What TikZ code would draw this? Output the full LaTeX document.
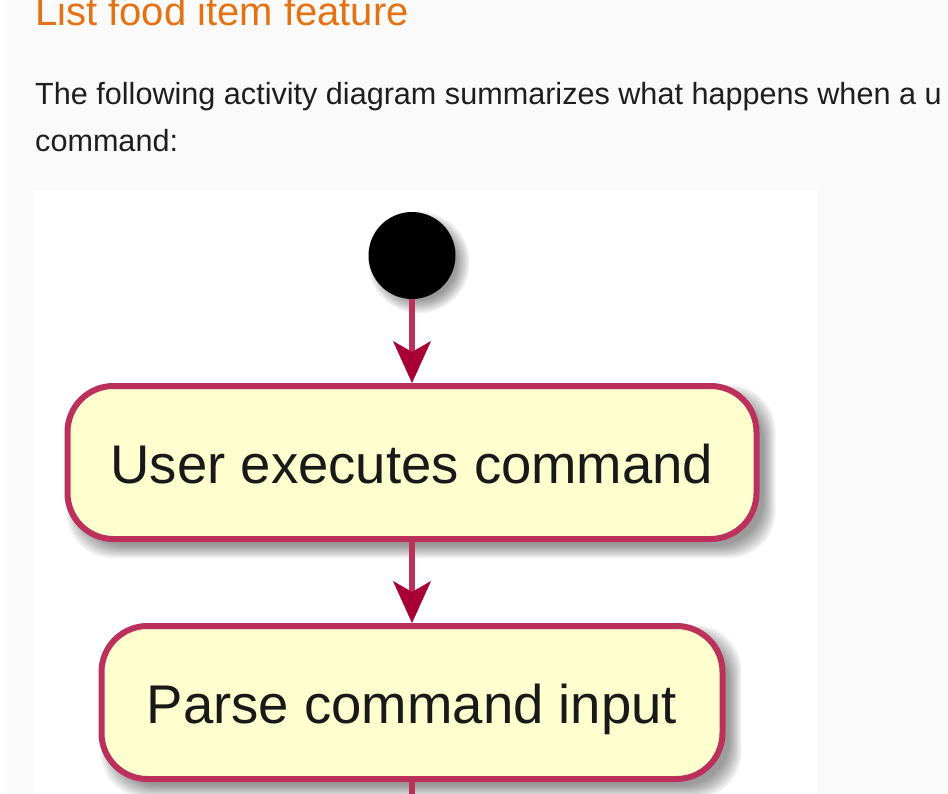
\documentclass[tikz,border=0pt]{standalone}
\usepackage{fontspec}
\setmainfont{Liberation Sans}
\usetikzlibrary{arrows.meta,calc}
\definecolor{pagebg}{RGB}{250,250,250}
\definecolor{headc}{RGB}{228,113,18}
\definecolor{bodyc}{RGB}{30,30,30}
\definecolor{umlred}{RGB}{168,0,54}
\definecolor{umlline}{RGB}{188,48,92}
\definecolor{umlfill}{RGB}{254,254,206}
\pgfdeclarelayer{back}
\pgfdeclarelayer{shade}
\pgfsetlayers{back,shade,main}
\tikzset{
  act/.style={draw=umlline, line width=6pt, fill=umlfill, rounded corners=46pt,
    minimum height=153pt, inner sep=0pt, text height=42pt, text depth=0pt,
    font=\fontsize{54.5}{60}\selectfont, text=black!90},
  startnode/.style={circle, fill=black, minimum size=87pt, inner sep=0pt},
  flow/.style={draw=umlline, line width=6pt,
    -{Stealth[length=42pt,width=38pt,inset=11pt,line width=0.5pt,color=umlred]}},
  plainflow/.style={draw=umlline, line width=6pt},
  heading/.style={anchor=base west, inner sep=0pt, text=headc, font=\fontsize{40}{48}\selectfont},
  bodytext/.style={anchor=base west, inner sep=0pt, text=bodyc, font=\fontsize{30.6}{36}\selectfont},
  shadowc/.style={fill=black, opacity=0.05}
}
\begin{document}
\begin{tikzpicture}[x=1pt,y=-1pt]
\useasboundingbox (0,0) rectangle (948,794);
\begin{pgfonlayer}{back}
  \fill[pagebg] (0,0) rectangle (948,794);
  \fill[white] (0,0) rectangle (5,794);
  \fill[white] (33,190) rectangle (818,794);
\end{pgfonlayer}

\node[heading] (title) at (35,26) {List food item feature};
\node[bodytext] (line1) at (35,105) {The following activity diagram summarizes what happens when a u};
\node[bodytext] (line2) at (35,152) {command:};

\node[startnode] (s) at (412,255.5) {};
\node[act, minimum width=689pt] (a1) at (412,462.5) {User executes command};
\node[act, minimum width=621pt] (a2) at (412,702.5) {Parse command input};
\coordinate (e) at (412,810);

\begin{pgfonlayer}{shade}
  \foreach \k in {0,...,8} {
    \fill[shadowc] ($(s.center)+(7,7)$) circle[radius={(38+1.6*\k)*1pt}];
    \fill[shadowc, rounded corners=46pt] ($(a1.north west)+(14-1.5*\k,14-1.5*\k)$) rectangle ($(a1.south east)+(4+1.5*\k,4+1.5*\k)$);
    \fill[shadowc, rounded corners=46pt] ($(a2.north west)+(14-1.5*\k,14-1.5*\k)$) rectangle ($(a2.south east)+(4+1.5*\k,4+1.5*\k)$);
  }
\end{pgfonlayer}

\draw[flow] (s) -- (a1);
\draw[flow] (a1) -- (a2);
\draw[plainflow] (a2) -- (e);
\end{tikzpicture}
\end{document}
